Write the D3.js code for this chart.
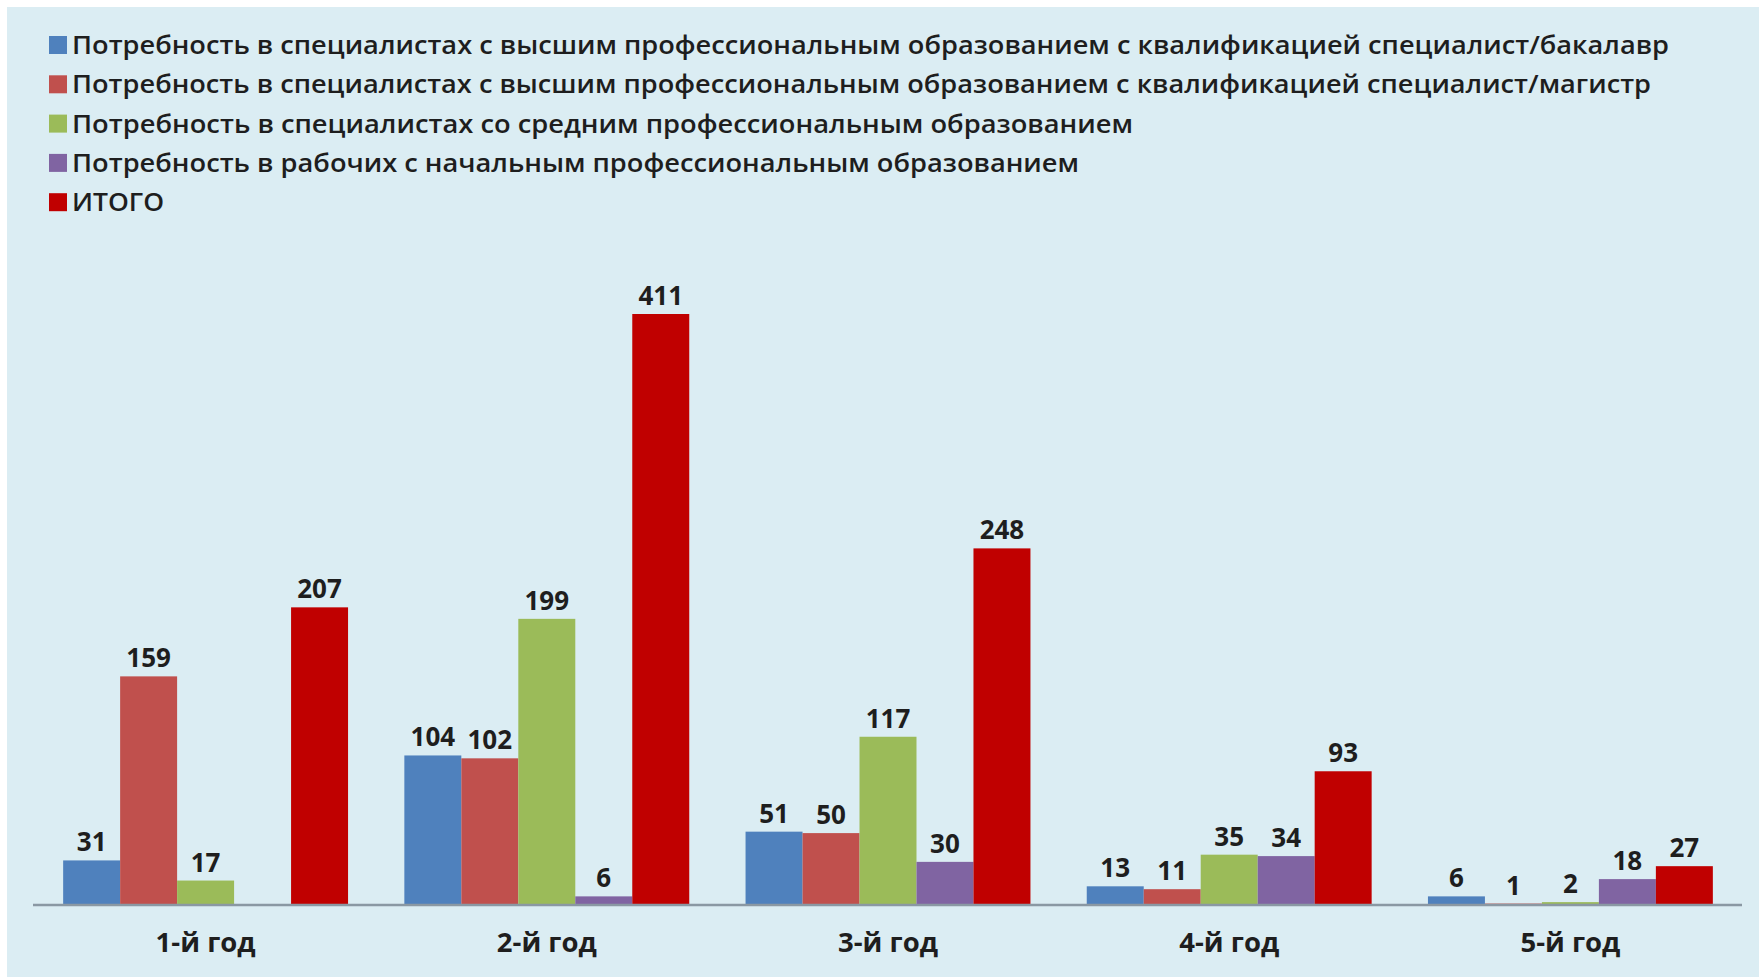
<!DOCTYPE html>
<html>
<head>
<meta charset="utf-8">
<script src="https://cdn.jsdelivr.net/npm/d3@7"></script>
<style>
html,body{margin:0;padding:0;background:#ffffff;}
svg{display:block;}
</style>
</head>
<body>
<svg id="chart" width="1759" height="977"></svg>
<script>
const categories = ["1-й год", "2-й год", "3-й год", "4-й год", "5-й год"];
const seriesNames = [
  "Потребность в специалистах с высшим профессиональным образованием с квалификацией специалист/бакалавр",
  "Потребность в специалистах с высшим профессиональным образованием с квалификацией специалист/магистр",
  "Потребность в специалистах со средним профессиональным образованием",
  "Потребность в рабочих с начальным профессиональным образованием",
  "ИТОГО"
];
const bachelor = [31, 104, 51, 13, 6];
const master = [159, 102, 50, 11, 1];
const secondary = [17, 199, 117, 35, 2];
const workers = [null, 6, 30, 34, 18];
const total = [207, 411, 248, 93, 27];
const seriesValues = [bachelor, master, secondary, workers, total];
const colors = ["#4f81bd", "#c0504d", "#9bbb59", "#8064a2", "#c00000"];
const legendWidths = [1597, 1579, 1061, 1007, 92];

const svg = d3.select("#chart");
svg.append("rect").attr("x", 7).attr("y", 7).attr("width", 1752).attr("height", 970).attr("fill", "#dbedf3");

const font = "'Open Sans', 'Noto Sans', sans-serif";

// legend
const lg = svg.append("g");
seriesNames.forEach((name, i) => {
  const y = 45 + i * 39.3;
  lg.append("rect").attr("x", 49).attr("y", y - 9).attr("width", 18).attr("height", 18).attr("fill", colors[i]);
  lg.append("text").attr("x", 72).attr("y", y).attr("dy", "0.36em")
    .attr("font-family", font).attr("font-weight", 600).attr("font-size", 25)
    .attr("fill", "#1e1e1e")
    .attr("textLength", legendWidths[i]).attr("lengthAdjust", "spacingAndGlyphs")
    .text(name);
});

// scales
const x0 = d3.scaleBand().domain(categories).range([35, 1741]).paddingInner(0.165).paddingOuter(0.0825);
const x1 = d3.scaleBand().domain(d3.range(seriesNames.length)).range([0, x0.bandwidth()]).padding(0);
const y = d3.scaleLinear().domain([0, 411]).range([905, 314]);

const data = [];
categories.forEach((c, ci) => {
  seriesValues.forEach((vals, si) => {
    data.push({cat: c, s: si, v: vals[ci]});
  });
});

const g = svg.append("g");
g.selectAll("rect.bar").data(data.filter(d => d.v != null)).join("rect")
  .attr("class", "bar")
  .attr("x", d => x0(d.cat) + x1(d.s))
  .attr("width", x1.bandwidth())
  .attr("y", d => y(d.v))
  .attr("height", d => y(0) - y(d.v))
  .attr("fill", d => colors[d.s]);

// axis
const xAxis = d3.axisBottom(x0).tickSize(0).tickPadding(27);
const ax = svg.append("g").attr("transform", `translate(0,${y(0)})`).call(xAxis);
ax.select(".domain").attr("stroke", "#8a98a3").attr("stroke-width", 2.5).attr("d", "M33,0H1742");
ax.selectAll("text").attr("font-family", font).attr("font-weight", 700).attr("font-size", 27.5).attr("fill", "#1e1e1e");

// value labels
g.selectAll("text.val").data(data.filter(d => d.v != null)).join("text")
  .attr("class", "val")
  .attr("x", d => x0(d.cat) + x1(d.s) + x1.bandwidth() / 2)
  .attr("y", d => y(d.v) - 9)
  .attr("text-anchor", "middle")
  .attr("font-family", font).attr("font-weight", 700).attr("font-size", 26)
  .attr("fill", "#1e1e1e")
  .text(d => d.v);
</script>
</body>
</html>
